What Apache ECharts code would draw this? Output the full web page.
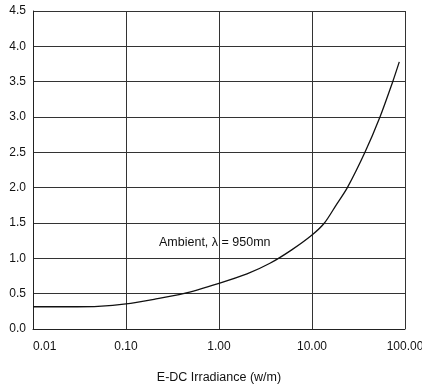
<!DOCTYPE html>
<html>
<head>
<meta charset="utf-8">
<script src="https://cdn.jsdelivr.net/npm/echarts@6/dist/echarts.min.js"></script>
<style>html,body{margin:0;padding:0;background:#fff}#c{width:422px;height:389px}</style>
</head>
<body>
<div id="c"></div>
<script>
var irradiance = [0.01, 0.03, 0.05, 0.1, 0.2, 0.413, 1, 2, 3.53, 6.05, 10, 13.6, 18.1, 24.0, 37.1, 53.8, 73.8, 86.8];
var signal = [0.315, 0.315, 0.32, 0.355, 0.42, 0.5, 0.647, 0.78, 0.93, 1.12, 1.33, 1.5, 1.75, 2.0, 2.5, 3.0, 3.5, 3.78];
var xTicks = [0.01, 0.1, 1, 10, 100];
var xTickLabels = ['0.01', '0.10', '1.00', '10.00', '100.00'];
var yTickLabels = ['0.0', '0.5', '1.0', '1.5', '2.0', '2.5', '3.0', '3.5', '4.0', '4.5'];
var annotation = 'Ambient, \u03bb = 950mn';
var xTitle = 'E-DC Irradiance (w/m)';

var font = "'Liberation Sans Narrow', 'Arial Narrow', 'Liberation Sans', sans-serif";
var chart = echarts.init(document.getElementById('c'));
chart.setOption({
  animation: false,
  grid: {left: 33, right: 17, top: 11, bottom: 60, outerBoundsMode: 'none', containLabel: false},
  xAxis: {
    type: 'log', logBase: 10, min: 0.01, max: 100,
    name: xTitle, nameLocation: 'middle', nameGap: 42,
    nameTextStyle: {fontFamily: font, fontSize: 12.5, color: '#111'},
    axisLine: {show: true, lineStyle: {color: '#222', width: 1}},
    axisTick: {show: false},
    splitLine: {show: true, lineStyle: {color: '#333', width: 1}},
    minorSplitLine: {show: false},
    axisLabel: {
      fontFamily: font, fontSize: 12, color: '#111', margin: 12,
      alignMinLabel: 'left', alignMaxLabel: 'center',
      formatter: function (v) {
        for (var i = 0; i < xTicks.length; i++) {
          if (Math.abs(Math.log10(v) - Math.log10(xTicks[i])) < 1e-6) return xTickLabels[i];
        }
        return '';
      }
    }
  },
  yAxis: {
    type: 'value', min: 0, max: 4.5, interval: 0.5,
    axisLine: {show: true, lineStyle: {color: '#222', width: 1}},
    axisTick: {show: false},
    splitLine: {show: true, lineStyle: {color: '#333', width: 1}},
    axisLabel: {
      fontFamily: font, fontSize: 12, color: '#111', margin: 7,
      formatter: function (v) { return yTickLabels[Math.round(v / 0.5)]; }
    }
  },
  graphic: [
    {type: 'text', left: 159, top: 236, style: {text: annotation, font: '12.5px ' + font, fill: '#111'}, z: 10}
  ],
  series: [{
    type: 'line', smooth: 0.3, symbol: 'none',
    lineStyle: {color: '#111', width: 1.3},
    data: irradiance.map(function (x, i) { return [x, signal[i]]; })
  }]
});
</script>
</body>
</html>
